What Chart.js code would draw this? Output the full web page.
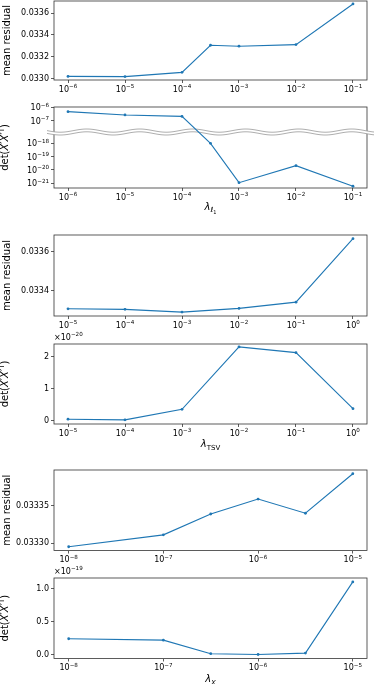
<!DOCTYPE html>
<html><head><meta charset="utf-8">
<script src="https://cdn.jsdelivr.net/npm/chart.js@4.4.0/dist/chart.umd.min.js"></script>
<style>
html,body{margin:0;padding:0;background:#fff;width:374px;height:684px;overflow:hidden;position:relative}
canvas{position:absolute;left:0}
</style></head><body>
<canvas id="c1"></canvas><canvas id="c2"></canvas><canvas id="c3"></canvas>
<canvas id="c4"></canvas><canvas id="c5"></canvas><canvas id="c6"></canvas>
<script>
// ---------------- data ----------------
const lambdaL1 = [1e-6, 1e-5, 1e-4, 3.162e-4, 1e-3, 1e-2, 1e-1];
const residL1  = [0.033020, 0.033018, 0.033057, 0.033306, 0.033297, 0.033312, 0.033685];
const detL1    = [4.8e-7, 2.7e-7, 2.1e-7, 1.0e-18, 1.1e-21, 2.1e-20, 5.9e-22];

const lambdaTSV = [1e-5, 1e-4, 1e-3, 1e-2, 1e-1, 1];
const residTSV  = [0.033308, 0.033305, 0.033291, 0.033310, 0.033342, 0.033667];
const detTSV_e20 = [0.04, 0.02, 0.35, 2.30, 2.12, 0.37];   // ×10^-20

const lambdaX = [1e-8, 1e-7, 3.162e-7, 1e-6, 3.162e-6, 1e-5];
const residX  = [0.033295, 0.033311, 0.033339, 0.033359, 0.033340, 0.033393];
const detX_e19 = [0.242, 0.221, 0.015, 0.003, 0.024, 1.106]; // ×10^-19

// tick labels
const xTicksL1  = [1e-6, 1e-5, 1e-4, 1e-3, 1e-2, 1e-1];
const xTicksTSV = [1e-5, 1e-4, 1e-3, 1e-2, 1e-1, 1];
const xTicksX   = [1e-8, 1e-7, 1e-6, 1e-5];
const residTicksL1  = ['0.0330', '0.0332', '0.0334', '0.0336'];
const detTicksL1    = [1e-21, 1e-20, 1e-19, 1e-18, 1e-7, 1e-6];
const residTicksTSV = ['0.0334', '0.0336'];
const detTicksTSV   = ['0', '1', '2'];
const residTicksX   = ['0.03330', '0.03335'];
const detTicksX     = ['0.0', '0.5', '1.0'];

// ---------------- helpers ----------------
const FONT = 'DejaVu Sans';
const BLUE = '#1f77b4';
const AXIS = '#333';
const PT = 16, HB = 30;
const BREAK_AT = -12, BREAK_SHIFT = 9.3, WAVE_T = -17.15;
const SUP = {'-':'⁻','0':'⁰','1':'¹','2':'²','3':'³','4':'⁴','5':'⁵','6':'⁶','7':'⁷','8':'⁸','9':'⁹'};
function pow10Label(v){
  const e = Math.round(Math.log10(v));
  return '10' + String(e).split('').map(c => SUP[c]).join('');
}
function pow10Parts(v){
  const e = Math.round(Math.log10(v));
  return [{t:'10', size:8}, {t:(e < 0 ? '−' : '') + Math.abs(e), size:5.6, dy:-3.5}];
}

class BrokenLogScale extends Chart.LinearScale {
  parse(raw, index){
    if (raw === null || raw === undefined) return null;
    const v = +raw;
    if (!(v > 0)) return null;
    const t = Math.log10(v);
    return t > BREAK_AT ? t - BREAK_SHIFT : t;
  }
}
BrokenLogScale.id = 'brokenLog';
BrokenLogScale.defaults = {};
Chart.register(BrokenLogScale);

function fontStr(p){ return (p.it ? 'italic ' : '') + p.size + 'px "' + FONT + '"'; }
function drawRich(ctx, parts, x, y, align, rotate){
  ctx.save();
  let w = 0;
  parts.forEach(p => { ctx.font = fontStr(p); w += ctx.measureText(p.t).width; });
  ctx.translate(x, y);
  if (rotate) ctx.rotate(-Math.PI/2);
  ctx.textBaseline = 'alphabetic';
  ctx.textAlign = 'left';
  ctx.fillStyle = '#000';
  let cx = align === 'right' ? -w : (align === 'left' ? 0 : -w/2);
  parts.forEach(p => { ctx.font = fontStr(p); ctx.fillText(p.t, cx, p.dy || 0); cx += ctx.measureText(p.t).width; });
  ctx.restore();
}
function drawWave(ctx, y, x0, x1){
  const A = 1.6, P = 53, h = 1.4;
  ctx.save();
  ctx.beginPath();
  for (let x = x0; x <= x1; x += 1) { const yy = y - h + A*Math.sin(2*Math.PI*(x - x0)/P); x === x0 ? ctx.moveTo(x, yy) : ctx.lineTo(x, yy); }
  for (let x = x1; x >= x0; x -= 1) ctx.lineTo(x, y + h + A*Math.sin(2*Math.PI*(x - x0)/P));
  ctx.closePath();
  ctx.fillStyle = '#fff'; ctx.fill();
  ctx.strokeStyle = '#999'; ctx.lineWidth = 0.8;
  for (const s of [-h, h]) {
    ctx.beginPath();
    for (let x = x0; x <= x1; x += 1) { const yy = y + s + A*Math.sin(2*Math.PI*(x - x0)/P); x === x0 ? ctx.moveTo(x, yy) : ctx.lineTo(x, yy); }
    ctx.stroke();
  }
  ctx.restore();
}

const LAM = {t:'λ', it:true, size:10};
const xlabL1  = [LAM, {t:'ℓ', it:true, size:7, dy:2.5}, {t:'1', size:5, dy:4}];
const xlabTSV = [LAM, {t:'TSV', size:7, dy:2.5}];
const xlabX   = [LAM, {t:'X', it:true, size:7, dy:2.5}];
const ylabDet = [{t:'det(', size:10}, {t:'X', it:true, size:10}, {t:'′', size:10},
                 {t:'X', it:true, size:10}, {t:'′', size:10}, {t:'T', size:7, dy:-4}, {t:')', size:10}];
const ylabRes = [{t:'mean residual', size:10}];

function panelPlugin(p){
  return {
    id: 'panel_' + p.id,
    beforeDatasetsDraw(chart){
      const ctx = chart.ctx, a = chart.chartArea;
      ctx.save();
      ctx.strokeStyle = AXIS; ctx.lineWidth = 0.8;
      ctx.strokeRect(a.left, a.top, a.right - a.left, a.bottom - a.top);
      ctx.restore();
      if (p.wave) drawWave(ctx, chart.scales.y.getPixelForValue(WAVE_T), 47, 374);
    },
    afterDraw(chart){
      const ctx = chart.ctx, a = chart.chartArea;
      const xs = chart.scales.x, ys = chart.scales.y;
      // x tick labels (10^n with real superscripts)
      xs.ticks.forEach(t => drawRich(ctx, pow10Parts(t.value), xs.getPixelForValue(t.value), a.bottom + 11.7, 'center'));
      // y tick labels of the broken log axis
      if (p.yType === 'brokenLog') {
        p.yTickVals.forEach(v => drawRich(ctx, pow10Parts(v), a.left - 5, ys.getPixelForValue(ys.parse(v)) + 2.9, 'right'));
      }
      drawRich(ctx, p.ylab, p.ylabX, (a.top + a.bottom)/2, 'center', true);
      if (p.xlab) drawRich(ctx, p.xlab, (a.left + a.right)/2, a.bottom + p.xlabDy, 'center');
      if (p.offset) {
        drawRich(ctx, [{t:'×10', size:8}, {t:p.offset, size:5.6, dy:-3.5}], a.left, a.top - 4.5, 'left');
      }
    }
  };
}

function makeChart(p){
  const cv = document.getElementById(p.id);
  const H = Math.round(PT + (p.bottom - p.top) + HB);
  cv.width = 374; cv.height = H;
  cv.style.width = '374px'; cv.style.height = H + 'px';
  cv.style.top = (p.top - PT) + 'px';
  const tickFont = {family: FONT, size: 8};
  const zeroPad = s => { s.paddingLeft = 0; s.paddingRight = 0; s.paddingTop = 0; s.paddingBottom = 0; };
  const customY = p.yType === 'brokenLog';
  new Chart(cv, {
    type: 'line',
    data: { datasets: [{
      data: p.xs.map((x, i) => ({x: x, y: p.ys[i]})),
      borderColor: BLUE, backgroundColor: BLUE, borderWidth: 1.1,
      pointRadius: 1.4, pointHoverRadius: 1.4, pointBorderWidth: 0, pointBackgroundColor: BLUE,
      tension: 0, fill: false
    }]},
    options: {
      responsive: false, animation: false, events: [], devicePixelRatio: 1,
      layout: { padding: { top: PT, left: 0, right: 7, bottom: H - PT - (p.bottom - p.top) - HB } },
      plugins: { legend: {display: false}, tooltip: {enabled: false}, title: {display: false} },
      scales: {
        x: {
          type: 'logarithmic', position: 'bottom', min: p.xMin, max: p.xMax,
          afterBuildTicks: s => { s.ticks = p.xTicks.map(v => ({value: v})); },
          afterFit: s => { s.height = HB; zeroPad(s); },
          ticks: { display: false, callback: v => pow10Label(v), font: tickFont, color: '#000', padding: 2,
                   maxRotation: 0, minRotation: 0, autoSkip: false },
          grid: { display: true, drawOnChartArea: false, drawTicks: true, tickLength: 3, color: AXIS, lineWidth: 0.8 },
          border: { display: false }
        },
        y: {
          type: p.yType, position: 'left', min: p.yMin, max: p.yMax, bounds: 'data',
          afterBuildTicks: s => { s.ticks = p.yTickVals.map(v => ({value: s.parse(v)})); },
          afterFit: s => { s.width = 54; zeroPad(s); },
          ticks: { display: !customY, callback: (v, i) => p.yTickLabels[i], font: tickFont, color: '#000', padding: 2, autoSkip: false },
          grid: { display: true, drawOnChartArea: false, drawTicks: true, tickLength: 3, color: AXIS, lineWidth: 0.8 },
          border: { display: false }
        }
      }
    },
    plugins: [panelPlugin(p)]
  });
}

const panels = [
  { id:'c1', top:1, bottom:80, xs:lambdaL1, ys:residL1, xMin:Math.pow(10,-6.246), xMax:Math.pow(10,-0.754), xTicks:xTicksL1,
    yType:'linear', yMin:0.032987, yMax:0.033712, yTickVals:residTicksL1.map(Number), yTickLabels:residTicksL1,
    ylab:ylabRes, ylabX:10 },
  { id:'c2', top:107, bottom:188, xs:lambdaL1, ys:detL1, xMin:Math.pow(10,-6.246), xMax:Math.pow(10,-0.754), xTicks:xTicksL1,
    yType:'brokenLog', yMin:Math.pow(10,-21.36), yMax:Math.pow(10,-5.97), yTickVals:detTicksL1, yTickLabels:detTicksL1.map(pow10Label),
    ylab:ylabDet, ylabX:8, xlab:xlabL1, xlabDy:21.5, wave:true },
  { id:'c3', top:235, bottom:316, xs:lambdaTSV, ys:residTSV, xMin:Math.pow(10,-5.246), xMax:Math.pow(10,0.246), xTicks:xTicksTSV,
    yType:'linear', yMin:0.033271, yMax:0.033686, yTickVals:residTicksTSV.map(Number), yTickLabels:residTicksTSV,
    ylab:ylabRes, ylabX:10 },
  { id:'c4', top:344, bottom:424, xs:lambdaTSV, ys:detTSV_e20, xMin:Math.pow(10,-5.246), xMax:Math.pow(10,0.246), xTicks:xTicksTSV,
    yType:'linear', yMin:-0.11, yMax:2.39, yTickVals:detTicksTSV.map(Number), yTickLabels:detTicksTSV,
    ylab:ylabDet, ylabX:8, xlab:xlabTSV, xlabDy:23, offset:'−20' },
  { id:'c5', top:470, bottom:550.5, xs:lambdaX, ys:residX, xMin:Math.pow(10,-8.15), xMax:Math.pow(10,-4.85), xTicks:xTicksX,
    yType:'linear', yMin:0.03329, yMax:0.033398, yTickVals:residTicksX.map(Number), yTickLabels:residTicksX,
    ylab:ylabRes, ylabX:10 },
  { id:'c6', top:577.5, bottom:658, xs:lambdaX, ys:detX_e19, xMin:Math.pow(10,-8.15), xMax:Math.pow(10,-4.85), xTicks:xTicksX,
    yType:'linear', yMin:-0.058, yMax:1.165, yTickVals:detTicksX.map(Number), yTickLabels:detTicksX,
    ylab:ylabDet, ylabX:8, xlab:xlabX, xlabDy:23.5, offset:'−19' }
];
panels.forEach(makeChart);
</script>
</body></html>
